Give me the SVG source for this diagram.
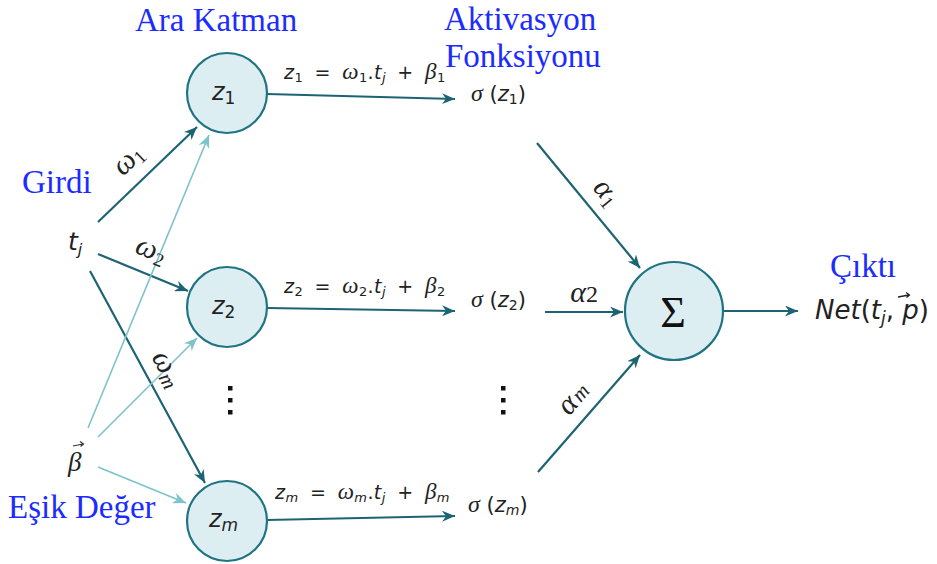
<svg xmlns="http://www.w3.org/2000/svg" width="937" height="564" viewBox="0 0 937 564">
<defs>
<marker id="ad" markerUnits="userSpaceOnUse" markerWidth="15" markerHeight="11" refX="13" refY="5.5" orient="auto"><path d="M0,0 L13,5.5 L0,11 L4,5.5 z" fill="#1c6473"/></marker>
<marker id="al" markerUnits="userSpaceOnUse" markerWidth="15" markerHeight="11" refX="13" refY="5.5" orient="auto"><path d="M0,0 L13,5.5 L0,11 L4,5.5 z" fill="#7cc3cb"/></marker>
<style>
.title{font-family:"Liberation Serif",serif;font-size:33px;fill:#1c2cff}
.node{fill:#ddeef2;stroke:#1f7383;stroke-width:2.2}
.dk{stroke:#1c6473;stroke-width:2.2;fill:none;marker-end:url(#ad)}
.lt{stroke:#7cc3cb;stroke-width:1.6;fill:none;marker-end:url(#al)}
.m{font-family:"DejaVu Sans","Liberation Sans",sans-serif;fill:#222}
.eq{word-spacing:5px;letter-spacing:0.4px}
.g{font-family:"Liberation Serif",serif;font-style:italic;fill:#222}
.i{font-style:italic}
.dots{fill:#111}
</style>
</defs>
<g id="titles">
<text class="title" x="135" y="31">Ara Katman</text>
<text class="title" x="444" y="30">Aktivasyon</text>
<text class="title" x="445" y="67">Fonksiyonu</text>
<text class="title" x="22" y="193">Girdi</text>
<text class="title" x="8" y="518">Eşik Değer</text>
<text class="title" x="830" y="277">Çıktı</text>
</g>
<g id="connectors">
<line class="dk" x1="98" y1="222" x2="197" y2="127"/>
<line class="dk" x1="98" y1="254" x2="188" y2="291"/>
<line class="dk" x1="90" y1="271" x2="205" y2="483"/>
<line class="lt" x1="88" y1="428" x2="209" y2="135"/>
<line class="lt" x1="98" y1="437" x2="197" y2="338"/>
<line class="lt" x1="98" y1="467" x2="186" y2="503"/>
<line class="dk" x1="267" y1="94" x2="455" y2="99"/>
<line class="dk" x1="267" y1="308" x2="455" y2="311"/>
<line class="dk" x1="267" y1="520" x2="455" y2="516"/>
<line class="dk" x1="537" y1="143" x2="640" y2="268"/>
<line class="dk" x1="545" y1="312" x2="623" y2="312"/>
<line class="dk" x1="538" y1="472" x2="640" y2="355"/>
<line class="dk" x1="723" y1="311" x2="798" y2="311"/>
</g>
<g id="weights">
<text class="g" font-size="30" transform="translate(134,166) rotate(-44)" text-anchor="middle">ω<tspan font-style="normal" font-size="19" dy="4">1</tspan></text>
<text class="g" font-size="30" transform="translate(148,258) rotate(22)" text-anchor="middle">ω<tspan font-size="19" font-style="normal" dy="4">2</tspan></text>
<text class="g" font-size="30" transform="translate(160,373) rotate(61.5)" text-anchor="middle">ω<tspan font-size="21" dy="4">m</tspan></text>
<text class="g" font-size="30" transform="translate(600,198) rotate(50.5)" text-anchor="middle">α<tspan font-style="normal" font-size="19" dy="4">1</tspan></text>
<text class="g" font-size="30" x="584" y="302" text-anchor="middle">α<tspan font-style="normal" font-size="24">2</tspan></text>
<text class="g" font-size="30" transform="translate(580,404) rotate(-49)" text-anchor="middle">α<tspan font-size="21" dx="2">m</tspan></text>
</g>
<g id="input-t">
<text class="m" x="68" y="250" font-size="25"><tspan class="i">t</tspan><tspan class="i" font-size="16" dy="5">j</tspan></text>
</g>
<g id="input-beta">
<text class="g" x="68" y="471" font-size="27">β</text>
<path d="M73,446 L83,444 M80,441.5 L83.5,444 L80.5,446.5" stroke="#333" stroke-width="1.2" fill="none"/>
</g>
<g id="node-z1">
<circle class="node" cx="227" cy="93" r="40"/>
<text class="m" x="212" y="100" font-size="24"><tspan class="i">z</tspan><tspan font-size="17" dy="4">1</tspan></text>
</g>
<g id="node-z2">
<circle class="node" cx="227" cy="307" r="40"/>
<text class="m" x="212" y="314" font-size="24"><tspan class="i">z</tspan><tspan font-size="17" dy="4">2</tspan></text>
</g>
<g id="node-zm">
<circle class="node" cx="227" cy="521" r="40"/>
<text class="m" x="209" y="527" font-size="24"><tspan class="i">z</tspan><tspan class="i" font-size="17" dy="4">m</tspan></text>
</g>
<g id="node-sum">
<circle class="node" cx="674" cy="311" r="49"/>
<text x="673" y="327" font-family="Liberation Serif,serif" font-size="44" text-anchor="middle" fill="#111">Σ</text>
</g>
<g id="equations">
<text class="m eq" x="284" y="79" font-size="19"><tspan class="i">z</tspan><tspan font-size="13" dy="3">1</tspan><tspan dy="-3"> = </tspan><tspan class="g" font-size="23">ω</tspan><tspan font-size="13" dy="3">1</tspan><tspan dy="-3">.</tspan><tspan class="i">t</tspan><tspan class="i" font-size="13" dy="3">j</tspan><tspan dy="-3"> + </tspan><tspan class="g" font-size="23">β</tspan><tspan font-size="13" dy="3">1</tspan></text>
<text class="m eq" x="284" y="293" font-size="19"><tspan class="i">z</tspan><tspan font-size="13" dy="3">2</tspan><tspan dy="-3"> = </tspan><tspan class="g" font-size="23">ω</tspan><tspan font-size="13" dy="3">2</tspan><tspan dy="-3">.</tspan><tspan class="i">t</tspan><tspan class="i" font-size="13" dy="3">j</tspan><tspan dy="-3"> + </tspan><tspan class="g" font-size="23">β</tspan><tspan font-size="13" dy="3">2</tspan></text>
<text class="m eq" x="275" y="499" font-size="19"><tspan class="i">z</tspan><tspan class="i" font-size="13" dy="3">m</tspan><tspan dy="-3"> = </tspan><tspan class="g" font-size="23">ω</tspan><tspan class="i" font-size="13" dy="3">m</tspan><tspan dy="-3">.</tspan><tspan class="i">t</tspan><tspan class="i" font-size="13" dy="3">j</tspan><tspan dy="-3"> + </tspan><tspan class="g" font-size="23">β</tspan><tspan class="i" font-size="13" dy="3">m</tspan></text>
</g>
<g id="activations">
<text class="m" x="471" y="101" font-size="21"><tspan class="g" font-size="24">σ</tspan> (<tspan class="i">z</tspan><tspan font-size="14" dy="3">1</tspan><tspan dy="-3">)</tspan></text>
<text class="m" x="471" y="307" font-size="21"><tspan class="g" font-size="24">σ</tspan> (<tspan class="i">z</tspan><tspan font-size="14" dy="3">2</tspan><tspan dy="-3">)</tspan></text>
<text class="m" x="468" y="512" font-size="21"><tspan class="g" font-size="24">σ</tspan> (<tspan class="i">z</tspan><tspan class="i" font-size="14" dy="3">m</tspan><tspan dy="-3">)</tspan></text>
</g>
<g id="output">
<text class="m" x="815" y="319" font-size="26"><tspan class="i">Net</tspan>(<tspan class="i">t</tspan><tspan class="i" font-size="17" dy="5">j</tspan><tspan dy="-5">, </tspan><tspan class="i">p</tspan>)</text>
<path d="M898,297 L909,295 M906,292.5 L909.5,295 L906.5,297.5" stroke="#222" stroke-width="1.3" fill="none"/>
</g>
<g id="ellipsis">
<rect class="dots" x="228" y="386" width="4.5" height="4.5"/>
<rect class="dots" x="228" y="398" width="4.5" height="4.5"/>
<rect class="dots" x="228" y="410" width="4.5" height="4.5"/>
<rect class="dots" x="501" y="386" width="4.5" height="4.5"/>
<rect class="dots" x="501" y="398" width="4.5" height="4.5"/>
<rect class="dots" x="501" y="410" width="4.5" height="4.5"/>
</g>
</svg>
